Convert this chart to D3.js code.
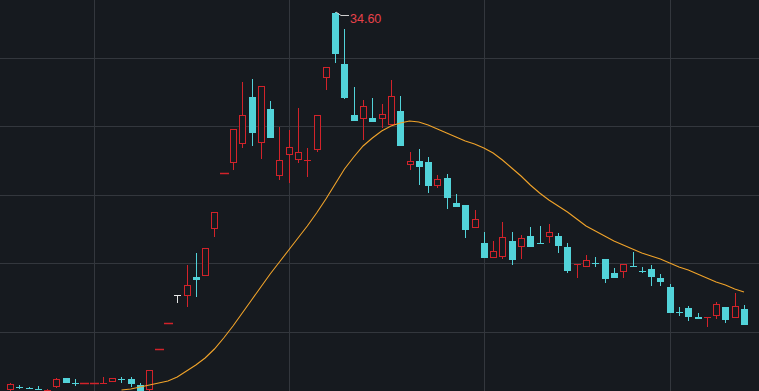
<!DOCTYPE html>
<html>
<head>
<meta charset="utf-8">
<script src="https://cdn.jsdelivr.net/npm/d3@7"></script>
<style>
  html, body { margin: 0; padding: 0; background: #161a1f; overflow: hidden; }
  svg { display: block; }
</style>
</head>
<body>
<script>
// ---- data ----
const categories = d3.range(80).map(i => "D" + (i + 1));

const opens = [8.14,8.35,8.30,8.24,8.10,8.35,8.98,8.65,8.65,8.66,
  8.62,8.70,8.93,8.91,8.49,8.14,11.01,12.83,14.79,14.72,
  16.05,16.12,19.41,23.33,24.03,25.36,28.65,25.43,27.81,23.12,
  24.59,24.24,24.22,24.94,29.98,34.53,30.96,27.39,27.11,27.18,
  27.11,26.69,27.67,23.89,24.17,24.10,22.42,22.98,21.23,21.09,
  19.48,18.43,17.38,17.45,18.57,18.15,18.92,18.45,18.85,18.92,
  18.15,16.94,16.75,17.06,17.31,16.33,16.40,16.84,16.49,16.61,
  15.98,15.35,13.62,13.88,13.25,13.23,13.32,13.95,13.18,13.81];

const highs = [8.63,8.49,8.35,8.42,8.20,8.95,9.00,8.91,8.65,8.66,
  9.05,8.98,9.05,9.05,8.63,9.54,11.01,12.83,14.79,16.89,
  17.73,18.08,20.60,23.33,26.41,29.70,29.91,29.42,28.37,26.55,
  26.34,27.88,25.08,27.39,30.75,34.60,33.41,29.35,28.44,28.58,
  28.16,29.84,28.72,24.80,25.01,24.45,23.19,23.26,21.86,21.09,
  20.74,19.20,18.57,19.90,19.20,18.99,19.55,19.62,19.76,19.13,
  18.43,16.98,17.59,17.45,17.31,16.68,16.96,17.80,16.75,16.89,
  16.26,15.56,13.95,14.02,13.53,13.27,14.30,13.95,14.93,14.09];

const lows = [8.07,8.21,8.21,8.14,8.07,8.30,8.60,8.42,8.65,8.66,
  8.62,8.70,8.63,8.35,8.00,8.07,11.01,12.83,14.23,13.95,
  14.65,16.12,18.85,23.33,23.54,25.08,25.22,24.31,25.78,22.84,
  22.63,24.03,23.05,24.80,29.14,31.03,28.51,26.97,25.64,26.90,
  26.48,26.69,25.22,23.54,22.49,21.93,22.28,20.81,20.95,18.78,
  19.48,17.38,17.38,17.31,16.89,17.31,18.15,18.41,18.43,17.73,
  16.33,15.98,16.75,16.75,15.63,15.98,15.98,16.80,16.33,15.42,
  15.42,13.53,13.32,12.97,13.11,12.55,13.11,12.83,13.18,12.69];

const closes = [8.56,8.33,8.27,8.20,8.17,8.91,8.63,8.62,8.65,8.66,
  8.64,8.98,8.90,8.56,8.07,9.54,11.01,12.83,14.79,15.49,
  15.84,18.08,20.60,23.33,26.41,27.39,26.13,29.42,25.78,24.24,
  25.15,24.80,24.26,27.39,30.75,31.66,28.58,26.97,28.02,26.90,
  27.46,28.72,25.22,24.17,23.75,22.42,22.91,21.58,20.95,19.34,
  20.11,17.38,17.87,18.85,17.24,18.78,18.15,18.41,19.20,18.22,
  16.47,16.98,17.24,17.02,15.91,15.98,16.96,16.80,16.45,16.05,
  15.70,13.53,13.58,13.25,13.11,13.27,14.16,13.04,14.02,12.69];

const ma20 = [null,null,null,null,null,null,null,null,null,null,
  null,null,8.14,8.21,8.35,8.49,8.63,8.77,9.05,9.47,
  9.89,10.38,11.01,11.78,12.62,13.53,14.44,15.35,16.26,17.10,
  17.94,18.78,19.62,20.53,21.51,22.56,23.61,24.45,25.22,25.78,
  26.27,26.62,26.83,26.97,26.90,26.69,26.41,26.13,25.85,25.57,
  25.36,25.08,24.73,24.24,23.68,23.12,22.49,21.93,21.44,21.02,
  20.60,20.11,19.62,19.27,18.92,18.57,18.29,18.01,17.73,17.52,
  17.31,17.03,16.75,16.54,16.26,15.98,15.70,15.49,15.21,15.00];

const gridPrices = [31.38, 26.59, 21.79, 17.00, 12.20];
const gridCategoryIdx = [9, 30, 51, 71];

// ---- drawing ----
const W = 759, H = 391;
const BG = "#161a1f", RED = "#d2232a", CYAN = "#52d3d9", WHITE = "#e6e6e6";

const svg = d3.select("body").append("svg").attr("width", W).attr("height", H);
svg.append("rect").attr("width", W).attr("height", H).attr("fill", BG);

const x = d3.scalePoint().domain(categories).range([10, 744]);
const y = d3.scaleLinear().domain([8.21, 34.6]).range([389, 12]);

// grid
svg.append("g").selectAll("line").data(gridPrices).join("line")
  .attr("x1", 0).attr("x2", W)
  .attr("y1", d => Math.round(y(d)) + 0.5).attr("y2", d => Math.round(y(d)) + 0.5)
  .attr("stroke", "#33373d").attr("stroke-width", 1);
svg.append("g").selectAll("line").data(gridCategoryIdx).join("line")
  .attr("y1", 0).attr("y2", H)
  .attr("x1", d => Math.round(x(categories[d])) + 0.5).attr("x2", d => Math.round(x(categories[d])) + 0.5)
  .attr("stroke", "#33373d").attr("stroke-width", 1);

const data = categories.map((c, i) => ({
  c, o: opens[i], h: highs[i], l: lows[i], cl: closes[i],
  prev: i > 0 ? closes[i - 1] : opens[i]
}));
function colorOf(d) {
  if (d.cl > d.o) return RED;
  if (d.cl < d.o) return CYAN;
  if (d.h > d.l) return WHITE;
  return d.cl >= d.prev ? RED : CYAN;
}

const g = svg.append("g");
data.forEach(d => {
  const cx = Math.round(x(d.c));
  const col = colorOf(d);
  const yh = Math.round(y(d.h)), yl = Math.round(y(d.l));
  if (yl - yh > 0) {
    g.append("line").attr("x1", cx + 0.5).attr("x2", cx + 0.5)
      .attr("y1", yh).attr("y2", yl).attr("stroke", col).attr("stroke-width", 1);
  }
  const top = Math.round(y(Math.max(d.o, d.cl)));
  const bot = Math.round(y(Math.min(d.o, d.cl)));
  if (bot - top < 2) {
    const flat = (d.h === d.l);
    g.append("line").attr("x1", cx - 3 - (flat ? 1 : 0)).attr("x2", cx + 4 + (flat ? 1 : 0))
      .attr("y1", top + 0.5).attr("y2", top + 0.5)
      .attr("stroke", col).attr("stroke-width", flat ? 1.5 : 1);
  } else if (col === RED) {
    g.append("rect").attr("x", cx - 3 + 0.5).attr("y", top + 0.5)
      .attr("width", 6).attr("height", bot - top - 1)
      .attr("fill", BG).attr("stroke", RED).attr("stroke-width", 1);
  } else {
    g.append("rect").attr("x", cx - 3).attr("y", top)
      .attr("width", 7).attr("height", bot - top).attr("fill", col);
  }
});

// MA line
const maLine = d3.line()
  .defined(d => d.v != null)
  .x(d => x(d.c)).y(d => y(d.v));
svg.append("path")
  .datum(categories.map((c, i) => ({ c, v: ma20[i] })))
  .attr("d", maLine).attr("fill", "none")
  .attr("stroke", "#f0a32a").attr("stroke-width", 1.1);

// max label
const maxIdx = d3.maxIndex(highs);
const mx = Math.round(x(categories[maxIdx])) + 1;
const my = y(highs[maxIdx]);
svg.append("polyline")
  .attr("points", [[mx, my], [mx + 5, my + 3.5], [mx + 13, my + 3.5]].map(p => p.join(",")).join(" "))
  .attr("fill", "none").attr("stroke", "#cfcfcf").attr("stroke-width", 1);
svg.append("text")
  .attr("x", mx + 14).attr("y", my + 10.5)
  .attr("font-family", "Liberation Sans, Arial, sans-serif").attr("font-size", 12.5)
  .attr("fill", "#e8424a")
  .text(highs[maxIdx].toFixed(2));
</script>
</body>
</html>
